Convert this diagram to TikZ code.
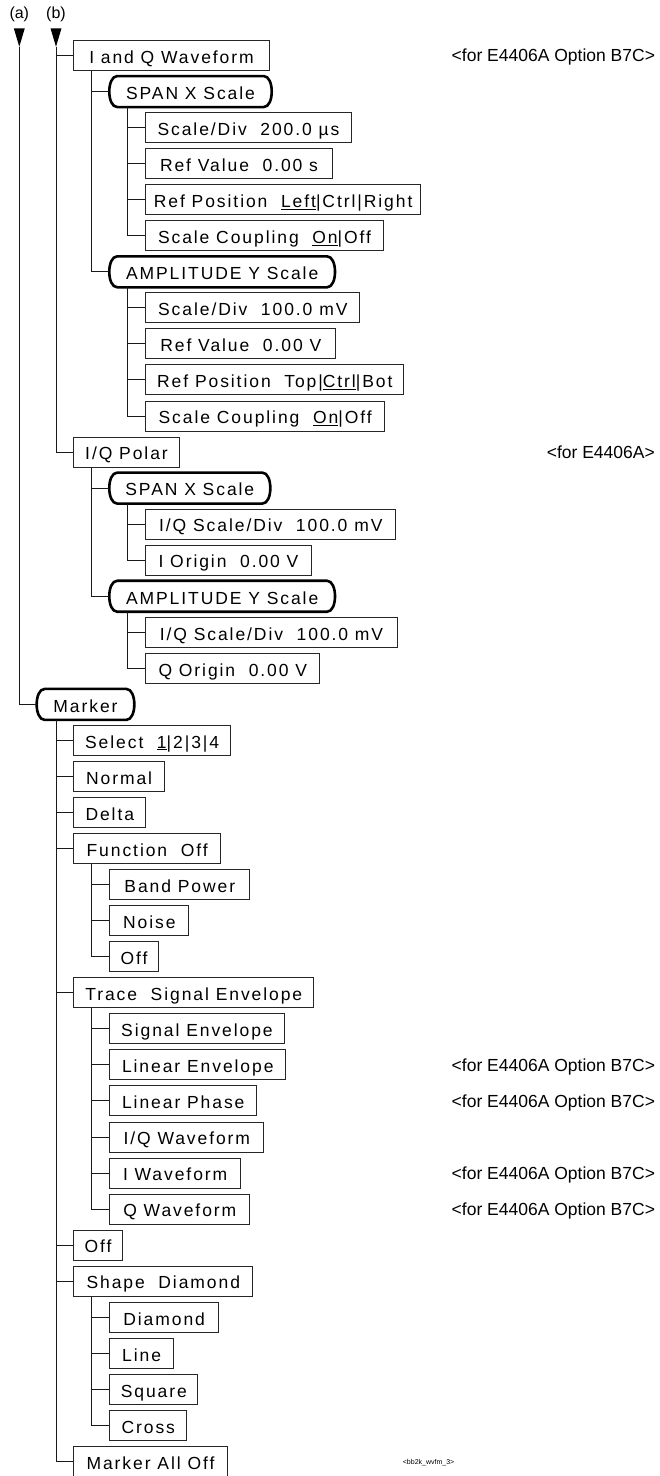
\documentclass[tikz,border=0pt]{standalone}
\usepackage{fontspec}
\setmainfont{Liberation Sans}
\newfontfamily\boxfont[LetterSpace=11]{Liberation Sans}
\usetikzlibrary{calc}
\newcommand{\tbox}[6]{\node[#1, minimum width={#4pt-#3pt}] (#2) at (#3,#5) {#6};}
\newcommand{\rborder}[1]{\draw[rline] ($(#1.north east)+(-8,0)$) -- ($(#1.north west)+(8,0)$) .. controls ($(#1.north west)+(-2.7,0)$) and ($(#1.south west)+(-2.7,0)$) .. ($(#1.south west)+(8,0)$) -- ($(#1.south east)+(-8,0)$) .. controls ($(#1.south east)+(2.7,0)$) and ($(#1.north east)+(2.7,0)$) .. cycle;}
\newcommand{\branch}[4]{%
  \coordinate (v#1) at ([xshift=#2pt]#1.south west);
  \draw[conn] (v#1) |- (#3.west);
  \foreach \c in {#4} {\draw[conn] (v#1 |- \c.west) -- (\c.west);}
}
\begin{document}
\begin{tikzpicture}[x=1pt,y=-1pt,
  every node/.style={inner sep=0pt},
  plainbox/.style={draw=black!85, line width=1pt, anchor=west, minimum height=30pt,
    text height=15.5pt, text depth=0pt, font={\boxfont\fontsize{17.5}{20}\selectfont}},
  roundbox/.style={plainbox, draw=none},
  rline/.style={line width=2.6pt, black},
  conn/.style={line width=1pt, black!90},
  note/.style={font={\fontsize{17.5}{20}\selectfont}, text height=12.5pt, text depth=0pt},
  lab/.style={font={\fontsize{16}{18}\selectfont}},
]
\useasboundingbox (0,0) rectangle (659,1476);

% top labels and arrowheads
\node[lab] (la) at (19.3,14.5) {(a)};
\node[lab] (lb) at (56,14.5) {(b)};
\coordinate (atip) at (19.3,46.7);
\coordinate (btip) at (56,46.7);
\fill (13.8,28.3) -- (24.8,28.3) -- (atip) -- cycle;
\fill (50.5,28.3) -- (61.5,28.3) -- (btip) -- cycle;

% boxes
\tbox{plainbox}{n0}{73.3}{268.7}{55.5}{I and Q Waveform}
\tbox{roundbox}{n1}{109.3}{270.7}{91.55}{SPAN X Scale}
\tbox{plainbox}{n2}{145.3}{350.7}{127.6}{Scale/Div\ \ 200.0 µs}
\tbox{plainbox}{n3}{145.3}{331.7}{163.65}{Ref Value\ \ 0.00 s}
\tbox{plainbox}{n4}{145.3}{420}{199.7}{Ref Position\ \ \underline{Left}|Ctrl|Right}
\tbox{plainbox}{n5}{145.3}{382.7}{235.75}{Scale Coupling\ \ \underline{On}|Off}
\tbox{roundbox}{n6}{109.3}{334}{271.8}{AMPLITUDE Y Scale}
\tbox{plainbox}{n7}{145.3}{359.3}{307.85}{Scale/Div\ \ 100.0 mV}
\tbox{plainbox}{n8}{145.3}{335.3}{343.9}{Ref Value\ \ 0.00 V}
\tbox{plainbox}{n9}{145.3}{403.3}{379.95}{Ref Position\ \ Top|\underline{Ctrl}|Bot}
\tbox{plainbox}{n10}{145.3}{384}{416}{Scale Coupling\ \ \underline{On}|Off}
\tbox{plainbox}{n11}{73.3}{178.7}{452.05}{I/Q Polar}
\tbox{roundbox}{n12}{109.3}{269.3}{488.1}{SPAN X Scale}
\tbox{plainbox}{n13}{145.3}{395.3}{524.15}{I/Q Scale/Div\ \ 100.0 mV}
\tbox{plainbox}{n14}{145.3}{310.7}{560.2}{I Origin\ \ 0.00 V}
\tbox{roundbox}{n15}{109.3}{334}{596.25}{AMPLITUDE Y Scale}
\tbox{plainbox}{n16}{145.3}{396.7}{632.3}{I/Q Scale/Div\ \ 100.0 mV}
\tbox{plainbox}{n17}{145.3}{319.3}{668.35}{Q Origin\ \ 0.00 V}
\tbox{roundbox}{n18}{36.7}{133.3}{704.4}{Marker}
\tbox{plainbox}{n19}{73.3}{230}{740.45}{Select\ \ \underline{1}|2|3|4}
\tbox{plainbox}{n20}{73.3}{164}{776.5}{Normal}
\tbox{plainbox}{n21}{73.3}{145.3}{812.55}{Delta}
\tbox{plainbox}{n22}{73.3}{220}{848.6}{Function\ \ Off}
\tbox{plainbox}{n23}{109.3}{249.3}{884.65}{Band Power}
\tbox{plainbox}{n24}{109.3}{188.3}{920.7}{Noise}
\tbox{plainbox}{n25}{109.3}{158}{956.75}{Off}
\tbox{plainbox}{n26}{73.3}{313.3}{992.8}{Trace\ \ Signal Envelope}
\tbox{plainbox}{n27}{109.3}{283.7}{1028.85}{Signal Envelope}
\tbox{plainbox}{n28}{109.3}{285.3}{1064.9}{Linear Envelope}
\tbox{plainbox}{n29}{109.3}{256.3}{1100.95}{Linear Phase}
\tbox{plainbox}{n30}{109.3}{263.3}{1137}{I/Q Waveform}
\tbox{plainbox}{n31}{109.3}{240}{1173.05}{I Waveform}
\tbox{plainbox}{n32}{109.3}{249.3}{1209.1}{Q Waveform}
\tbox{plainbox}{n33}{73.3}{121.7}{1245.15}{Off}
\tbox{plainbox}{n34}{73.3}{252.3}{1281.2}{Shape\ \ Diamond}
\tbox{plainbox}{n35}{109.3}{218}{1317.25}{Diamond}
\tbox{plainbox}{n36}{109.3}{173}{1353.3}{Line}
\tbox{plainbox}{n37}{109.3}{197.3}{1389.35}{Square}
\tbox{plainbox}{n38}{109.3}{186.3}{1425.4}{Cross}
\tbox{plainbox}{n39}{73.3}{226.7}{1461.45}{Marker All Off}

\rborder{n1}
\rborder{n6}
\rborder{n12}
\rborder{n15}
\rborder{n18}

% connectors
\draw[conn] (atip) |- (n18.west);
\draw[conn] (btip) |- (n11.west);
\draw[conn] (btip |- n0.west) -- (n0.west);
\branch{n0}{18.4}{n6}{n1}
\branch{n1}{18.4}{n5}{n2,n3,n4}
\branch{n6}{18.4}{n10}{n7,n8,n9}
\branch{n11}{18.4}{n15}{n12}
\branch{n12}{18.4}{n14}{n13}
\branch{n15}{18.4}{n17}{n16}
\branch{n18}{19.3}{n39}{n19,n20,n21,n22,n26,n33,n34}
\branch{n22}{18.4}{n25}{n23,n24}
\branch{n26}{18.4}{n32}{n27,n28,n29,n30,n31}
\branch{n34}{18.4}{n38}{n35,n36,n37}

% annotations
\node[note, anchor=west] (t0) at (451.5,55.5) {<for E4406A Option B7C>};
\node[note, anchor=east] (t11) at (655,452.05) {<for E4406A>};
\node[note, anchor=west] (t28) at (451.5,1064.9) {<for E4406A Option B7C>};
\node[note, anchor=west] (t29) at (451.5,1100.95) {<for E4406A Option B7C>};
\node[note, anchor=west] (t31) at (451.5,1173.05) {<for E4406A Option B7C>};
\node[note, anchor=west] (t32) at (451.5,1209.1) {<for E4406A Option B7C>};
\node[font={\fontsize{7}{8}\selectfont}, anchor=west] (tag) at (402.7,1463) {<bb2k\_wvfm\_3>};
\end{tikzpicture}
\end{document}
